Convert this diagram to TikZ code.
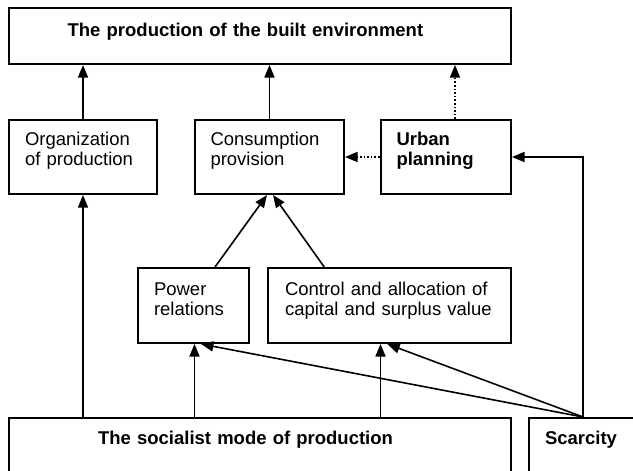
\documentclass[tikz,border=0pt]{standalone}
\usepackage{fontspec}
\setmainfont{Liberation Sans}
\usetikzlibrary{arrows.meta,positioning,calc}

\begin{document}
\begin{tikzpicture}[
  x=1pt, y=-1pt,
  font=\fontsize{18.5}{20}\selectfont,
  box/.style={draw, line width=2pt, inner ysep=0pt, inner xsep=16pt,
              align=left, anchor=north west},
  arr/.style={-{Triangle[length=12.5pt,width=10pt]}, line width=1.6pt},
  dotarr/.style={arr, dotted}
]
\useasboundingbox (0,0) rectangle (633,471);
\clip (0,0) rectangle (633,471);

% top row
\node[box, inner xsep=58.6pt, text width=384.3pt, text height=28.5pt, text depth=27.5pt]
  (prod) at (8,7) {\textbf{The production of the built environment}};

% middle row
\node[box, text width=116pt, text height=25.5pt, text depth=48.5pt]
  (org) at (8,119) {Organization\\of production};
\node[box, inner xsep=15.5pt, text width=118pt, text height=25.5pt, text depth=48.5pt]
  (cons) at (194,119) {Consumption\\provision};
\node[box, text width=98.5pt, text height=25.5pt, text depth=48.5pt]
  (urban) at (379.5,119) {\textbf{Urban}\\\textbf{planning}};

% lower row
\node[box, text width=79pt, text height=27.5pt, text depth=47.5pt]
  (power) at (137,267) {Power\\relations};
\node[box, inner xsep=17pt, text width=208.5pt, text height=27.5pt, text depth=47.5pt]
  (ctrl) at (267,267) {Control and allocation of\\capital and surplus value};

% bottom row (runs past the lower edge)
\node[box, inner xsep=89pt, text width=323.5pt, text height=26.5pt, text depth=60pt]
  (social) at (8,417) {\textbf{The socialist mode of production}};
\node[box, text width=88pt, text height=26.5pt, text depth=60pt]
  (scarce) at (528,417) {\textbf{Scarcity}};
\coordinate (src) at ([xshift=55pt]scarce.north west);

% connectors
\draw[arr] (org.north) -- (org.north |- prod.south);
\draw[arr] (cons.north) -- (cons.north |- prod.south);
\draw[dotarr] ([xshift=9.25pt]urban.north) -- ([xshift=9.25pt]urban.north |- prod.south);
\draw[dotarr] (urban.west) -- (cons.east);
\draw[arr] (src) |- (urban.east);

\draw[arr] ([xshift=21.5pt]power.north) -- ([xshift=-2.5pt]cons.south);
\draw[arr] ([xshift=-65pt]ctrl.north) -- ([xshift=3.5pt]cons.south);

\draw[arr] (org.south |- social.north) -- (org.south);
\draw[arr] ([xshift=1pt]power.south |- social.north) -- ([xshift=1pt]power.south);
\draw[arr] ([xshift=-8.75pt]ctrl.south |- social.north) -- ([xshift=-8.75pt]ctrl.south);
\draw[arr] (src) -- ([xshift=7.5pt]power.south);
\draw[arr] (src) -- ([xshift=-2pt]ctrl.south);

\end{tikzpicture}
\end{document}
